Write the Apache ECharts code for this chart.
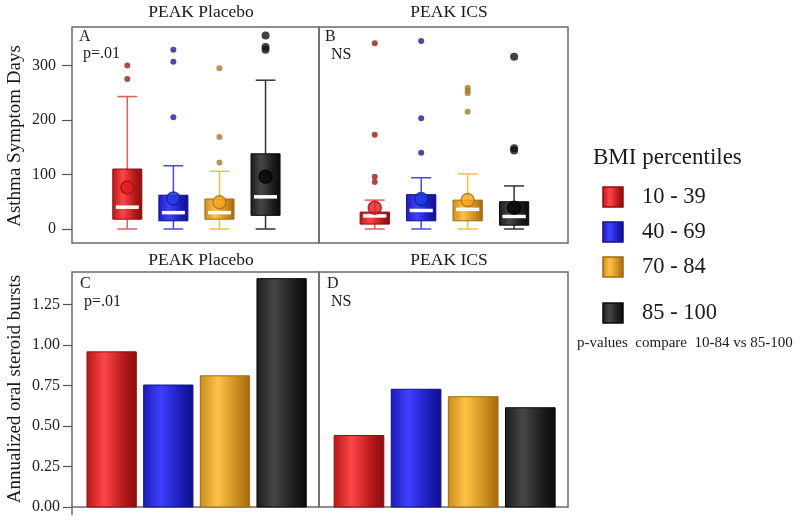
<!DOCTYPE html>
<html>
<head>
<meta charset="utf-8">
<script src="https://cdn.jsdelivr.net/npm/echarts@6/dist/echarts.min.js"></script>
<style>html,body{margin:0;padding:0;background:#fff}#c{width:800px;height:521px}</style>
</head>
<body>
<div id="c"></div>
<script>
// ---- data ----
const groups = ['10 - 39', '40 - 69', '70 - 84', '85 - 100'];
// box stats: [min, q1, median, q3, max]
const placeboBox = [[0, 18, 40, 110, 243], [0, 15, 30, 62, 116], [0, 18, 30, 55, 106], [0, 25, 59, 138, 273]];
const placeboMean = [76, 56, 49, 96];
const placeboOutliers = [[300, 275], [329, 307, 205], [295, 169, 122], [355, 334, 329]];
const icsBox = [[0, 9, 24, 31, 53], [0, 15, 34, 63, 94], [0, 15, 36, 53, 101], [0, 7, 23, 50, 79]];
const icsMean = [39, 55, 53, 39];
const icsOutliers = [[341, 173, 96, 86], [345, 203, 140], [259, 254, 249, 215], [316, 148, 144]];
const placeboBursts = [0.958, 0.753, 0.810, 1.41];
const icsBursts = [0.441, 0.727, 0.681, 0.613];
const topTicks = [0, 100, 200, 300];
const bottomTicks = [0, 0.25, 0.5, 0.75, 1.0, 1.25];

// ---- styles ----
const FONT = '"Liberation Serif", "Times New Roman", serif';
const pal = [
  {edge: '#b51818', light: '#ff4646', dark: '#8a0e0e', whisk: '#e85a5e', out: '#9b1b1b', mean: '#e01b1b', meanS: '#a01010'},
  {edge: '#1c1cb8', light: '#4040ff', dark: '#10108a', whisk: '#4a4ae0', out: '#1c1c96', mean: '#1f3fe8', meanS: '#102090'},
  {edge: '#c98b1e', light: '#ffc145', dark: '#a06a10', whisk: '#f0c040', out: '#a8782a', mean: '#f5a623', meanS: '#b07010'},
  {edge: '#1c1c1c', light: '#474747', dark: '#0a0a0a', whisk: '#333333', out: '#111111', mean: '#050505', meanS: '#000000'}
];
function grad(p) {
  return new echarts.graphic.LinearGradient(0, 0, 1, 0, [
    {offset: 0, color: p.edge}, {offset: 0.35, color: p.light},
    {offset: 0.75, color: p.edge}, {offset: 1, color: p.dark}
  ]);
}

function boxData(stats) { return stats.map((s, i) => [i, s[0], s[1], s[2], s[3], s[4], i]); }
function meanData(m) { return m.map((v, i) => ({value: [i, v], itemStyle: {color: pal[i].mean, borderColor: pal[i].meanS, borderWidth: 1.5}})); }
function outData(o) {
  const r = [];
  o.forEach((arr, i) => arr.forEach(v => r.push({value: [i, v], symbolSize: i === 3 ? 8 : 6, itemStyle: {color: pal[i].out}})));
  return r;
}
function barData(b) { return b.map((v, i) => [i, v, i]); }

function boxRender(params, api) {
  const x = api.value(0);
  const p = pal[api.value(6)];
  const pMin = api.coord([x, api.value(1)]);
  const pQ1 = api.coord([x, api.value(2)]);
  const pMed = api.coord([x, api.value(3)]);
  const pQ3 = api.coord([x, api.value(4)]);
  const pMax = api.coord([x, api.value(5)]);
  const bw = api.size([0.63, 0])[0];
  const cw = api.size([0.43, 0])[0];
  const cx = pMin[0];
  const ls = {stroke: p.whisk, lineWidth: 1.5};
  return {
    type: 'group',
    children: [
      {type: 'line', shape: {x1: cx, y1: pMax[1], x2: cx, y2: pQ3[1]}, style: ls},
      {type: 'line', shape: {x1: cx, y1: pQ1[1], x2: cx, y2: pMin[1]}, style: ls},
      {type: 'line', shape: {x1: cx - cw / 2, y1: pMax[1], x2: cx + cw / 2, y2: pMax[1]}, style: ls},
      {type: 'line', shape: {x1: cx - cw / 2, y1: pMin[1], x2: cx + cw / 2, y2: pMin[1]}, style: ls},
      {type: 'rect', shape: {x: cx - bw / 2, y: pQ3[1], width: bw, height: pQ1[1] - pQ3[1]},
        style: {fill: grad(p), stroke: p.dark, lineWidth: 1}},
      {type: 'line', shape: {x1: cx - bw / 2 + 3, y1: pMed[1], x2: cx + bw / 2 - 3, y2: pMed[1]},
        style: {stroke: '#ffffff', lineWidth: 3.5}}
    ]
  };
}
function barRender(params, api) {
  const x = api.value(0);
  const p = pal[api.value(2)];
  const p0 = api.coord([x, 0]);
  const p1 = api.coord([x, api.value(1)]);
  const bw = api.size([0.87, 0])[0];
  return {
    type: 'rect',
    shape: {x: p0[0] - bw / 2, y: p1[1], width: bw, height: p0[1] - p1[1]},
    style: {fill: grad(p), stroke: p.dark, lineWidth: 1}
  };
}

const frame = {show: true, borderColor: '#6a6a6a', borderWidth: 1.5, backgroundColor: 'transparent'};
const grids = [
  Object.assign({left: 72, top: 27, width: 247, height: 216}, frame),   // 0 frame A
  {left: 72, top: 27, width: 247, height: 202},                         // 1 data A
  Object.assign({left: 319, top: 27, width: 249, height: 216}, frame),  // 2 frame B
  {left: 319, top: 27, width: 249, height: 202},                        // 3 data B
  Object.assign({left: 72, top: 272, width: 247, height: 235}, frame),  // 4 C
  Object.assign({left: 319, top: 272, width: 249, height: 235}, frame)  // 5 D
];
const hiddenAxis = (g) => ({type: 'value', gridIndex: g, show: false, min: 0, max: 1});
const xAxes = [
  hiddenAxis(0),
  {type: 'value', gridIndex: 1, show: false, min: -1.2, max: 4.16},
  hiddenAxis(2),
  {type: 'value', gridIndex: 3, show: false, min: -1.2, max: 4.16},
  {type: 'value', gridIndex: 4, show: false, min: -0.7, max: 3.66},
  {type: 'value', gridIndex: 5, show: false, min: -0.7, max: 3.66}
];
const topY = (g, labels) => ({
  type: 'value', gridIndex: g, min: 0, max: 370.6, show: labels,
  splitLine: {show: false}, axisLine: {show: false, onZero: false},
  axisTick: {show: labels, length: 10, customValues: topTicks, lineStyle: {color: '#555', width: 1.2}},
  axisLabel: {show: labels, margin: 16, color: '#222', fontFamily: FONT, fontSize: 16, customValues: topTicks}
});
const botY = (g, labels) => ({
  type: 'value', gridIndex: g, min: 0, max: 1.451, show: labels,
  splitLine: {show: false}, axisLine: {show: false, onZero: false},
  axisTick: {show: labels, length: 9, customValues: bottomTicks, lineStyle: {color: '#555', width: 1.2}},
  axisLabel: {show: labels, margin: 12, color: '#222', fontFamily: FONT, fontSize: 16, customValues: bottomTicks,
    formatter: v => Number(v).toFixed(2)}
});
const yAxes = [hiddenAxis(0), topY(1, true), hiddenAxis(2), topY(3, false), botY(4, true), botY(5, false)];

const series = [
  {type: 'custom', xAxisIndex: 1, yAxisIndex: 1, renderItem: boxRender, data: boxData(placeboBox), encode: {x: 0, y: [1, 2, 3, 4, 5]}, z: 2},
  {type: 'custom', xAxisIndex: 3, yAxisIndex: 3, renderItem: boxRender, data: boxData(icsBox), encode: {x: 0, y: [1, 2, 3, 4, 5]}, z: 2},
  {type: 'scatter', xAxisIndex: 1, yAxisIndex: 1, data: outData(placeboOutliers), z: 3},
  {type: 'scatter', xAxisIndex: 3, yAxisIndex: 3, data: outData(icsOutliers), z: 3},
  {type: 'scatter', xAxisIndex: 1, yAxisIndex: 1, data: meanData(placeboMean), symbolSize: 13, z: 4},
  {type: 'scatter', xAxisIndex: 3, yAxisIndex: 3, data: meanData(icsMean), symbolSize: 13, z: 4},
  {type: 'custom', xAxisIndex: 4, yAxisIndex: 4, renderItem: barRender, data: barData(placeboBursts), encode: {x: 0, y: 1}},
  {type: 'custom', xAxisIndex: 5, yAxisIndex: 5, renderItem: barRender, data: barData(icsBursts), encode: {x: 0, y: 1}}
];

const txt = (x, y, text, size, align) => ({type: 'text', x: x, y: y, z: 10,
  style: {text: text, fill: '#1a1a1a', font: size + 'px ' + FONT, textAlign: align || 'left', textVerticalAlign: 'middle'}});
const graphics = [
  txt(201, 12, 'PEAK Placebo', 17.5, 'center'),
  txt(449, 12, 'PEAK ICS', 17.5, 'center'),
  txt(201, 260, 'PEAK Placebo', 17.5, 'center'),
  txt(449, 260, 'PEAK ICS', 17.5, 'center'),
  txt(79, 37, 'A', 16), txt(83, 54, 'p=.01', 16),
  txt(325, 37, 'B', 16), txt(331, 55, 'NS', 16),
  txt(80, 284, 'C', 16), txt(84, 302, 'p=.01', 16),
  txt(327, 284, 'D', 16), txt(331, 302, 'NS', 16),
  {type: 'text', x: 15, y: 136, rotation: Math.PI / 2, z: 10,
    style: {text: 'Asthma Symptom Days', fill: '#1a1a1a', font: '19px ' + FONT, textAlign: 'center', textVerticalAlign: 'middle'}},
  {type: 'text', x: 15, y: 389, rotation: Math.PI / 2, z: 10,
    style: {text: 'Annualized oral steroid bursts', fill: '#1a1a1a', font: '19px ' + FONT, textAlign: 'center', textVerticalAlign: 'middle'}},
  txt(593, 158, 'BMI percentiles', 23),
  txt(577, 343, 'p-values  compare  10-84 vs 85-100', 15),
  {type: 'line', z: 10, shape: {x1: 72, y1: 507, x2: 72, y2: 515}, style: {stroke: '#6a6a6a', lineWidth: 1.5}}
];
const legendY = [197, 232, 267, 313];
groups.forEach((g, i) => {
  graphics.push({type: 'rect', z: 10, shape: {x: 603, y: legendY[i] - 10, width: 20, height: 20},
    style: {fill: grad(pal[i]), stroke: pal[i].dark, lineWidth: 1.5}});
  graphics.push(txt(642, legendY[i], g, 22.5));
});

const chart = echarts.init(document.getElementById('c'), null, {renderer: 'canvas'});
chart.setOption({
  animation: false,
  backgroundColor: '#ffffff',
  grid: grids,
  xAxis: xAxes,
  yAxis: yAxes,
  series: series,
  graphic: graphics
});
</script>
</body>
</html>
